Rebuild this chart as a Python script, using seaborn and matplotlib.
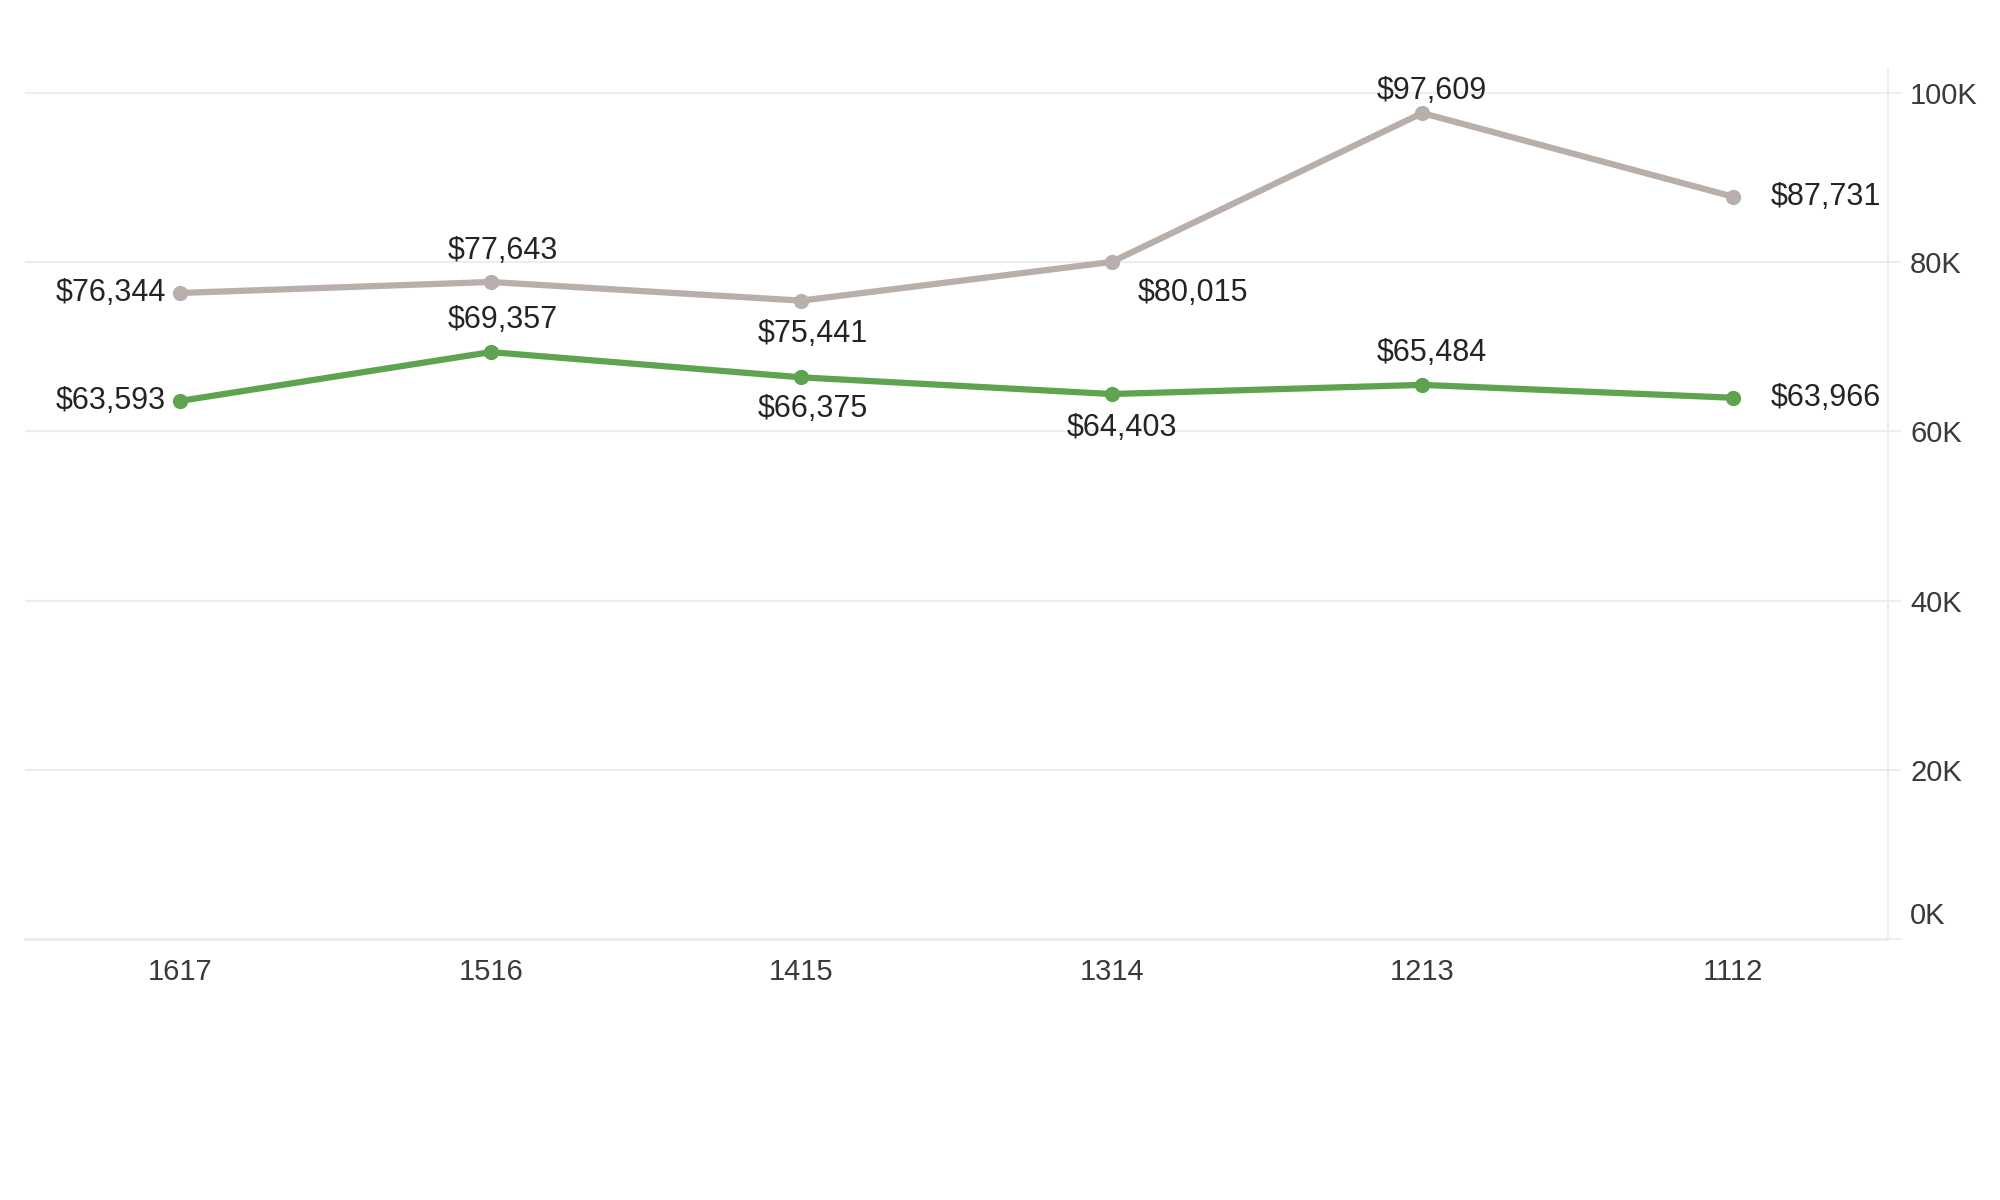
import numpy as np
import pandas as pd
import seaborn as sns
import matplotlib.pyplot as plt
import matplotlib.transforms as mtransforms

# chart data
years = ['1112', '1213', '1314', '1415', '1516', '1617']
gray_values = [87731, 97609, 80015, 75441, 77643, 76344]
green_values = [63966, 65484, 64403, 66375, 69357, 63593]
y_ticks = [0, 20000, 40000, 60000, 80000, 100000]
y_tick_labels = ['0K', '20K', '40K', '60K', '80K', '100K']

# label placement per point: (dx, dy, ha) in pixels
gray_label_pos = [(38, 0, 'left'), (10, 22, 'center'), (26, -31, 'left'),
                  (12, -33, 'center'), (12, 31, 'center'), (-14, 0, 'right')]
green_label_pos = [(38, 0, 'left'), (10, 32, 'center'), (10, -34, 'center'),
                   (12, -32, 'center'), (12, 32, 'center'), (-14, 0, 'right')]

gray_color = '#B8AFAB'
green_color = '#5DA350'
grid_color = '#EDEDED'

df = pd.DataFrame({
    'Year': years * 2,
    'Value': gray_values + green_values,
    'Series': ['gray'] * len(years) + ['green'] * len(years),
})

sns.set_style('white')
plt.rcParams['font.family'] = ['Liberation Sans', 'DejaVu Sans']

fig = plt.figure(figsize=(20, 12), dpi=100)
ax = fig.add_axes([0.0125, 0.2175, 0.9315, 0.7242])

sns.lineplot(data=df, x='Year', y='Value', hue='Series', sort=False,
             palette={'gray': gray_color, 'green': green_color},
             marker='o', markersize=11, markeredgewidth=0, linewidth=4.5,
             legend=False, ax=ax)

ax.set_xlim(5.5, -0.5)
ax.set_ylim(0, 102700)

# data labels
for series, values, positions in [('gray', gray_values, gray_label_pos),
                                  ('green', green_values, green_label_pos)]:
    for i, (v, (dx, dy, ha)) in enumerate(zip(values, positions)):
        ax.annotate(f"${v:,}", xy=(i, v), xytext=(dx, dy), textcoords='offset pixels',
                    ha=ha, va='center', fontsize=22, color='#252423')

# y axis on the right
ax.yaxis.tick_right()
ax.set_yticks(y_ticks)
ax.set_yticklabels(y_tick_labels)
ax.tick_params(axis='y', length=9, width=1.5, color=grid_color, pad=7,
               labelsize=21, labelcolor='#3B3A39')
ax.yaxis.grid(True, color=grid_color, linewidth=1.5)
ax.set_axisbelow(True)

# shift bottom label up a bit like the reference
for lab in ax.get_yticklabels():
    if lab.get_text() == '0K':
        lab.set_transform(lab.get_transform() + mtransforms.Affine2D().translate(0, 26))

# x axis
ax.set_xticks(range(len(years)))
ax.set_xticklabels(years)
ax.set_xticks(np.arange(-0.5, len(years), 1), minor=True)
ax.tick_params(axis='x', which='major', length=0, pad=14, labelsize=21, labelcolor='#3B3A39')
ax.tick_params(axis='x', which='minor', length=10, width=1.5, color=grid_color)
ax.set_xlabel('')
ax.set_ylabel('')

for side in ['top', 'left']:
    ax.spines[side].set_visible(False)
ax.spines['right'].set_color(grid_color)
ax.spines['right'].set_linewidth(1.5)
ax.spines['bottom'].set_color(grid_color)
ax.spines['bottom'].set_linewidth(2)

plt.savefig('out.png', dpi=100)
